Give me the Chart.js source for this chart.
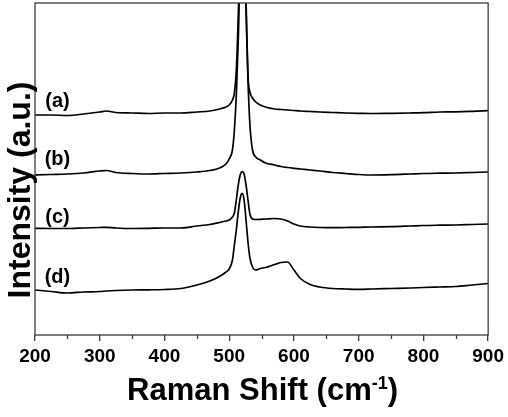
<!DOCTYPE html>
<html>
<head>
<meta charset="utf-8">
<script src="https://cdn.jsdelivr.net/npm/chart.js@4.4.1/dist/chart.umd.min.js"></script>
<style>
html,body{margin:0;padding:0;background:#fff;}
#wrap{width:508px;height:417px;position:relative;}
</style>
</head>
<body>
<div id="wrap"><canvas id="c" width="508" height="417"></canvas></div>
<script>
// Raman shift grid (cm-1)
const shift = [200,225,250,275,300,310,325,350,375,400,425,450,470,485,495,500,505,508,511,514,517,520,523,526,529,532,536,541,548,556,570,580,590,600,610,625,640,660,680,700,720,750,780,800,825,850,875,900];
// Intensities (a.u., stacked offsets as in the figure)
const seriesA = [220,220,219.5,221,223,224,222.5,222,221.5,222,222,223,224,226,228,230,235,242,265,320,395,535,415,335,260,243,237,233,230,228,226,225.5,225,224.5,224,223.5,223,222.5,222,221.7,221.5,221.7,222,222.3,223,223.2,223.7,224.3];
const seriesB = [160,160.5,161,162,164,164.5,162.5,161.5,161,161.5,162,163,164.5,167,171,176,185,205,240,295,375,515,395,325,255,210,185,178,175,172,170,168.5,167.5,166.7,166,165,164,162.5,161.5,160.5,160,160.3,161,161.5,161.8,162,162.5,163];
const seriesC = [106.7,106.5,106.5,107,107.5,107.7,107,106.5,106.7,107,107,109,110.5,112.5,114,115,118,122,135,150,160,163.3,161,150,135,121,116,115.5,115.7,116,116.5,116,114,111,109,108,107.5,107.3,107.5,107.7,108,108.3,109,109.5,109.8,110,110.5,111];
const seriesD = [45,43.5,42,43,43.5,44,44.5,45,45.2,45.5,46.5,50,54,58.5,63,66,75,90,105,123,137,141.7,135,115,93,77,68,65,66.5,67.5,70.5,72.5,73,65,56.5,50.5,48,46.5,46,45.7,46,46.5,47,47.5,48,48.5,50,51.5];
const seriesNames = ['(a)','(b)','(c)','(d)'];
const xTicks = [200,300,400,500,600,700,800,900];
const xMinorTicks = [250,350,450,550,650,750,850];

const FONT = "'Liberation Sans', Arial, Helvetica, sans-serif";
const allSeries = [seriesA, seriesB, seriesC, seriesD];
const datasets = allSeries.map((s, i) => ({
  label: seriesNames[i],
  data: shift.map((x, k) => ({x: x, y: s[k]})),
  borderColor: '#000',
  borderWidth: 1.7,
  pointRadius: 0,
  fill: false,
  cubicInterpolationMode: 'monotone'
}));

// label anchor positions in data coordinates
const labelPos = [[234.7,234],[234.7,176],[234.7,117.5],[234.7,57.5]];

const decor = {
  id: 'decor',
  afterDraw(chart) {
    const ctx = chart.ctx, a = chart.chartArea;
    const xs = chart.scales.x, ys = chart.scales.y;
    ctx.save();
    // frame
    ctx.strokeStyle = '#3a3a3a';
    ctx.lineWidth = 1.3;
    ctx.strokeRect(a.left, a.top, a.right - a.left, a.bottom - a.top);
    // minor ticks
    ctx.beginPath();
    xMinorTicks.forEach(v => {
      const px = Math.round(xs.getPixelForValue(v)) + 0.5;
      ctx.moveTo(px, a.bottom); ctx.lineTo(px, a.bottom + 4);
    });
    ctx.stroke();
    // series labels
    ctx.fillStyle = '#000';
    ctx.font = 'bold 20px ' + FONT;
    ctx.textAlign = 'center';
    ctx.textBaseline = 'middle';
    seriesNames.forEach((n, i) => {
      ctx.fillText(n, xs.getPixelForValue(labelPos[i][0]), ys.getPixelForValue(labelPos[i][1]));
    });
    // y title
    ctx.save();
    ctx.translate(30, 190);
    ctx.rotate(-Math.PI / 2);
    ctx.font = 'bold 32px ' + FONT;
    ctx.textAlign = 'center';
    ctx.textBaseline = 'alphabetic';
    ctx.fillText('Intensity (a.u.)', 0, 0);
    ctx.restore();
    // x title with superscript
    const big = 'bold 31px ' + FONT, small = 'bold 18px ' + FONT;
    const p1 = 'Raman Shift (cm', p2 = '-1', p3 = ')';
    ctx.textAlign = 'left';
    ctx.textBaseline = 'alphabetic';
    ctx.font = big; const w1 = ctx.measureText(p1).width, w3 = ctx.measureText(p3).width;
    ctx.font = small; const w2 = ctx.measureText(p2).width;
    const total = w1 + w2 + w3;
    let x0 = (a.left + a.right) / 2 - total / 2 + 1;
    const base = 400;
    ctx.font = big; ctx.fillText(p1, x0, base);
    ctx.font = small; ctx.fillText(p2, x0 + w1, base - 11);
    ctx.font = big; ctx.fillText(p3, x0 + w1 + w2, base);
    ctx.restore();
  }
};

new Chart(document.getElementById('c'), {
  type: 'line',
  data: { datasets },
  options: {
    responsive: false,
    animation: false,
    devicePixelRatio: 1,
    layout: { padding: { left: 35, right: 19, top: 3, bottom: 0 } },
    plugins: { legend: { display: false }, tooltip: { enabled: false } },
    scales: {
      x: {
        type: 'linear',
        min: 200, max: 900,
        afterFit(scale) { scale.height = 82; },
        afterBuildTicks(scale) { scale.ticks = xTicks.map(v => ({value: v})); },
        ticks: {
          color: '#000',
          font: { family: FONT, size: 19, weight: 'bold' },
          padding: 4,
          maxRotation: 0,
          autoSkip: false
        },
        grid: { drawOnChartArea: false, drawTicks: true, tickLength: 6, color: '#3a3a3a', lineWidth: 1.3 },
        border: { display: false }
      },
      y: {
        display: false,
        min: 0, max: 332
      }
    }
  },
  plugins: [decor]
});
</script>
</body>
</html>
